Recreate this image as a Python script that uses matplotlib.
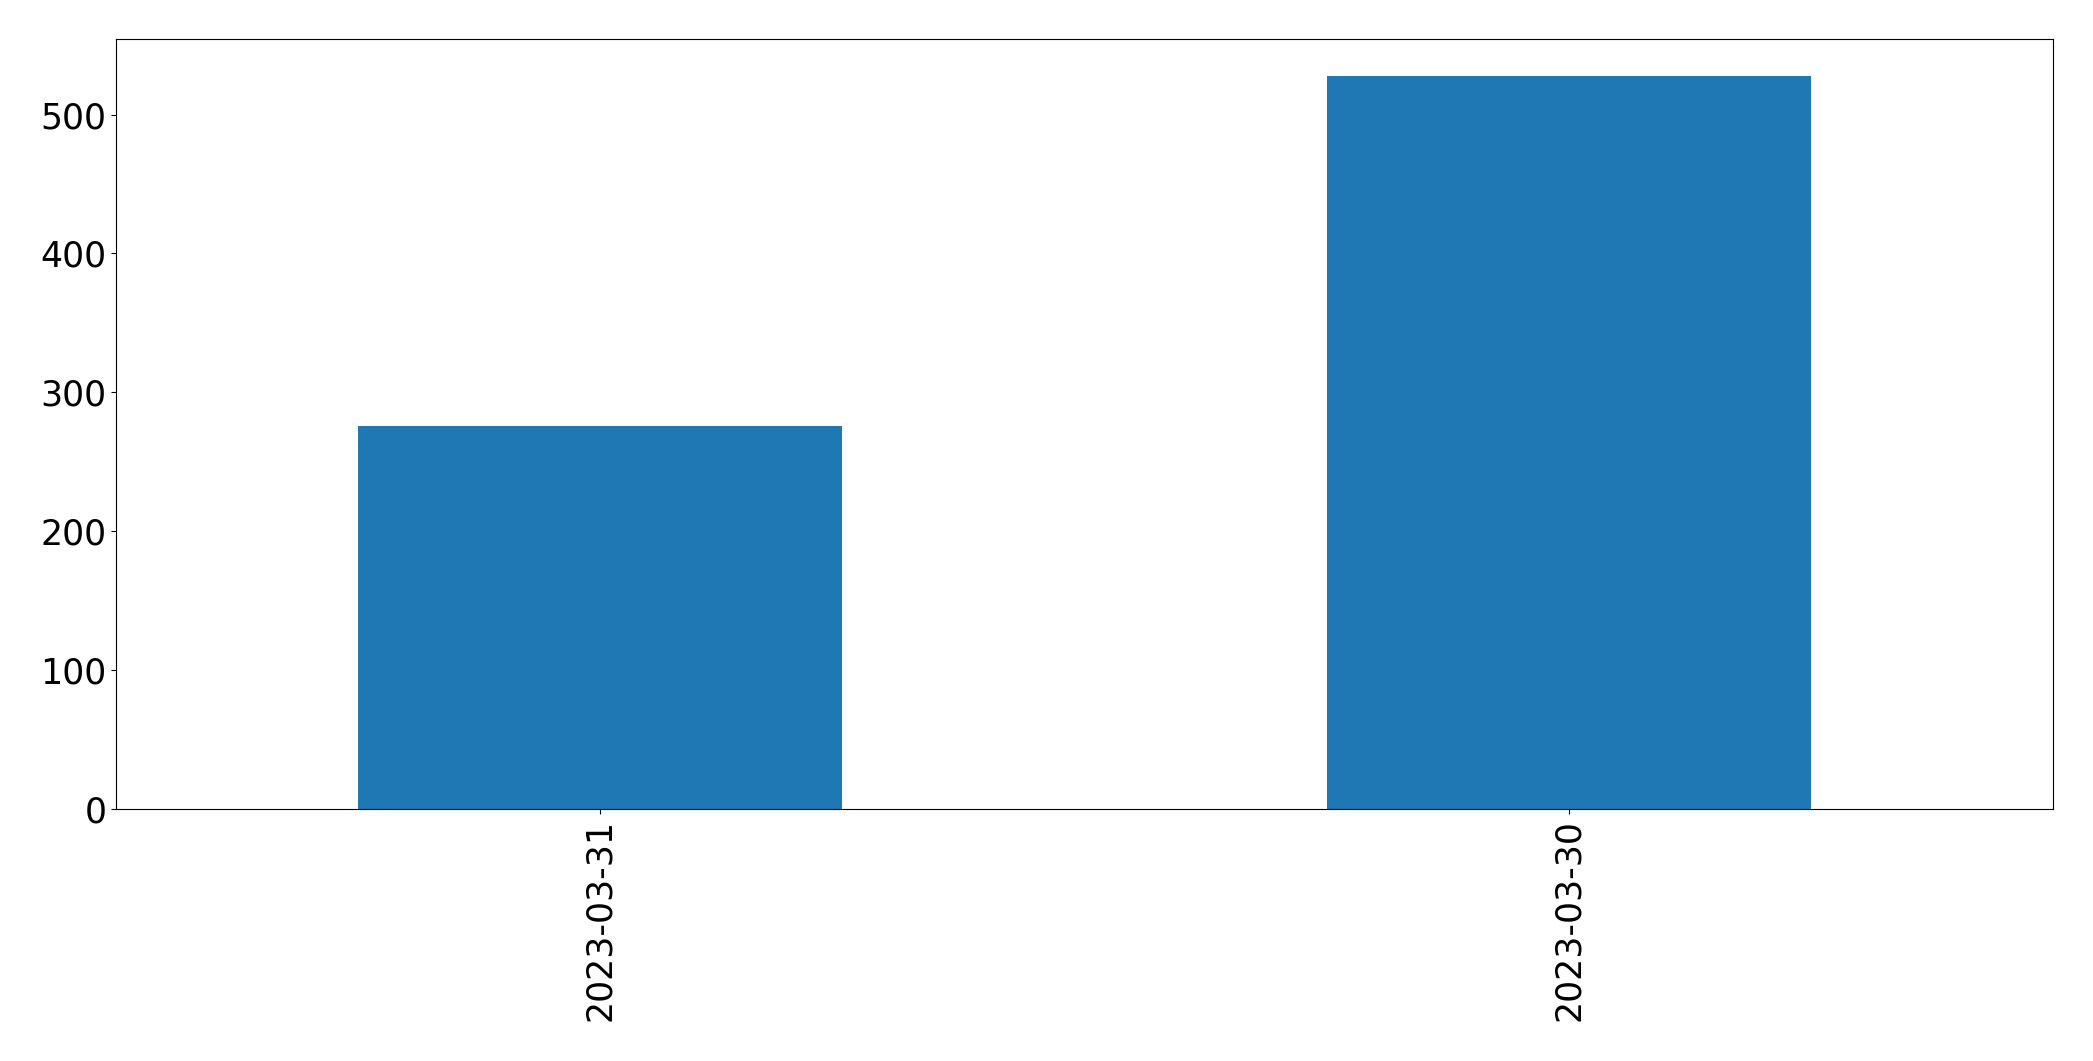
import matplotlib
matplotlib.use('Agg')
import matplotlib.pyplot as plt
import pandas as pd

# counts per date, in the order shown
dates = ['2023-03-31', '2023-03-30']
counts = [276, 528]

series = pd.Series(counts, index=dates)

fig = plt.figure(figsize=(20.93, 10.61), dpi=100)
ax = fig.add_axes([116 / 2093, 1 - 809 / 1061, (2053 - 116) / 2093, (809 - 39) / 1061])
series.plot(kind='bar', ax=ax, color='#1f77b4', fontsize=25)

fig.savefig('out.png', dpi=100)
